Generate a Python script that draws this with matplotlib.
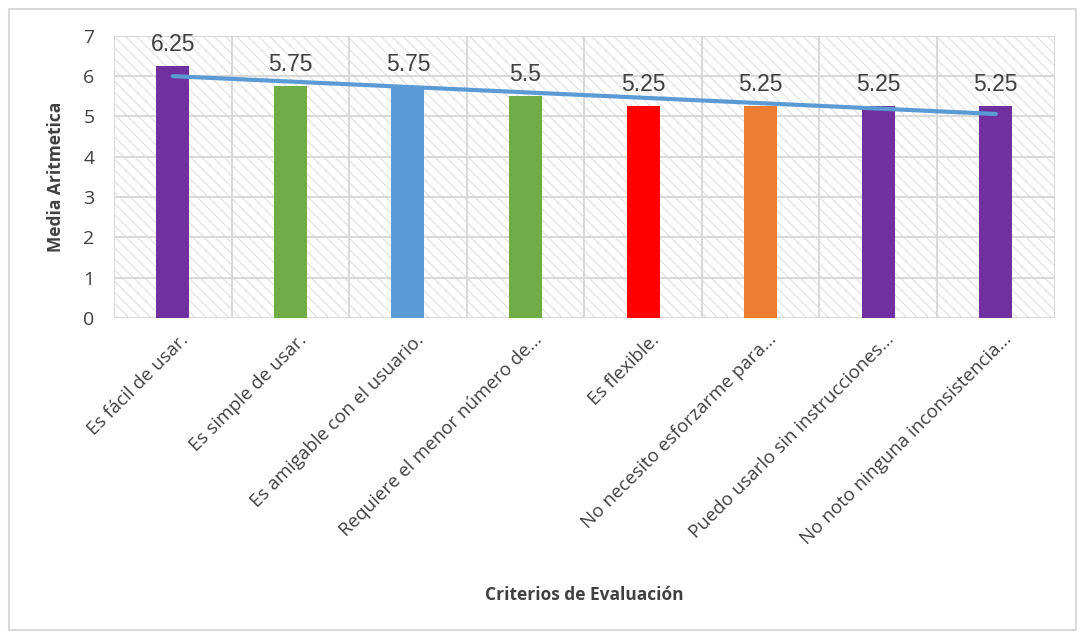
import matplotlib.pyplot as plt
import numpy as np
from matplotlib.patches import Rectangle

criterios = ["Es fácil de usar.", "Es simple de usar.", "Es amigable con el usuario.",
             "Requiere el menor número de...", "Es flexible.", "No necesito esforzarme para...",
             "Puedo usarlo sin instrucciones...", "No noto ninguna inconsistencia..."]
medias = [6.25, 5.75, 5.75, 5.5, 5.25, 5.25, 5.25, 5.25]
colores = ["#7030A0", "#70AD47", "#5B9BD5", "#70AD47", "#FF0000", "#ED7D31", "#7030A0", "#7030A0"]

plt.rcParams['font.family'] = ['Liberation Sans', 'DejaVu Sans']
plt.rcParams['hatch.linewidth'] = 0.7

fig = plt.figure(figsize=(10.85, 6.4), dpi=100)
ax = fig.add_axes([0.105, 0.503, 0.867, 0.441])

# hatched plot background
ax.add_patch(Rectangle((0, 0), 1, 1, transform=ax.transAxes, facecolor='white',
                       edgecolor='#DCDCDC', linewidth=0, hatch='\\\\\\', zorder=0))

x = np.arange(len(criterios))
ax.bar(x, medias, width=0.28, color=colores, zorder=3)
for xi, v in zip(x, medias):
    ax.text(xi, v + 0.26, f"{v:g}", ha='center', va='bottom', fontsize=16.5, color='#404040', zorder=4)

# linear trend line
coef = np.polyfit(x, medias, 1)
ax.plot(x, np.polyval(coef, x), color='#5B9BD5', lw=3, solid_capstyle='round', zorder=5)

ax.set_xlim(-0.5, len(criterios) - 0.5)
ax.set_ylim(0, 7)
ax.set_yticks(range(8))
ax.set_xticks(x + 0.06)
ax.set_xticklabels(criterios, rotation=45, ha='right', rotation_mode='anchor',
                   fontsize=13.5, color='#404040', family=['Open Sans', 'DejaVu Sans'])
ax.tick_params(axis='x', length=0, pad=9)
ax.tick_params(axis='y', length=0, labelsize=14, labelcolor='#404040', pad=14)
for lbl in ax.get_yticklabels():
    lbl.set_family(['Open Sans', 'DejaVu Sans'])

# category separators and value gridlines
for b in np.arange(-0.5, len(criterios), 1.0):
    ax.axvline(b, color='#D9D9D9', lw=1.5, zorder=1)
ax.yaxis.grid(True, color='#D9D9D9', lw=1.5, zorder=1)
ax.xaxis.grid(False)
ax.set_axisbelow(True)
for s in ax.spines.values():
    s.set_visible(False)

ax.set_xlabel("Criterios de Evaluación", fontsize=12.5, fontweight='bold', color='#404040',
              family=['Open Sans', 'DejaVu Sans'])
ax.xaxis.set_label_coords(0.5, -0.95)
ax.set_ylabel("Media Aritmetica", fontsize=12.5, fontweight='bold', color='#404040',
              family=['Open Sans', 'DejaVu Sans'])
ax.yaxis.set_label_coords(-0.052, 0.5)

# outer chart border
fig.add_artist(Rectangle((0.008, 0.016), 0.984, 0.97, transform=fig.transFigure,
                         fill=False, edgecolor='#D9D9D9', lw=1.5))

fig.savefig("out.png", dpi=100)
